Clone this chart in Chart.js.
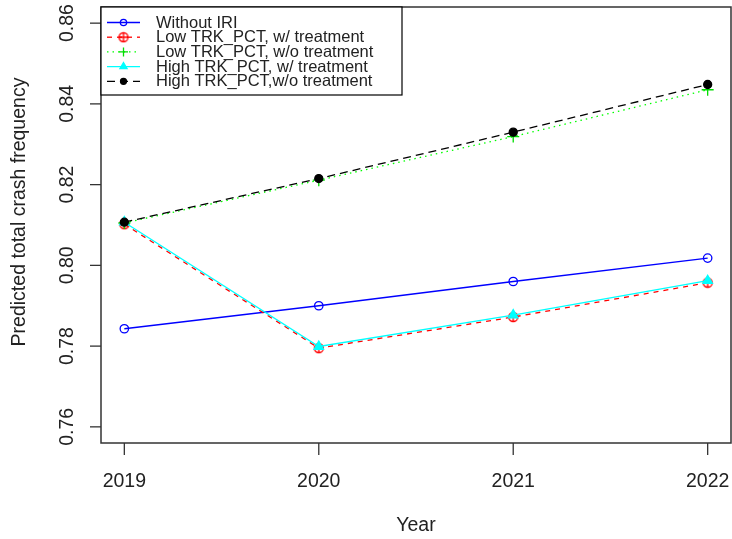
<!DOCTYPE html>
<html>
<head>
<meta charset="utf-8">
<script src="https://cdn.jsdelivr.net/npm/chart.js@4.4.1/dist/chart.umd.min.js"></script>
<style>
  html, body { margin: 0; padding: 0; background: #fff; }
  canvas { display: block; }
</style>
</head>
<body>
<canvas id="chart" width="732" height="539"></canvas>
<script>
// ---- data ----
const years = [2019, 2020, 2021, 2022];
const withoutIri = [0.7843, 0.7900, 0.7960, 0.8018];
const lowWith = [0.8102, 0.7795, 0.7872, 0.7957];
const lowWithout = [0.8105, 0.8211, 0.8319, 0.8435];
const highWith = [0.8107, 0.7799, 0.7877, 0.7962];
const highWithout = [0.8107, 0.8215, 0.8330, 0.8448];
const yTicks = [0.76, 0.78, 0.80, 0.82, 0.84, 0.86];

const FONT = "'Liberation Sans', Arial, Helvetica, sans-serif";
const AXIS = '#333';

// R's pch=10 (circle with a plus) drawn once into a small canvas
function circlePlus(color, r) {
  const c = document.createElement('canvas');
  const s = Math.ceil(r * 2 + 3);
  c.width = s; c.height = s;
  const g = c.getContext('2d');
  g.strokeStyle = color;
  g.lineWidth = 1.3;
  g.beginPath();
  g.arc(s / 2, s / 2, r, 0, Math.PI * 2);
  g.moveTo(s / 2 - r, s / 2); g.lineTo(s / 2 + r, s / 2);
  g.moveTo(s / 2, s / 2 - r); g.lineTo(s / 2, s / 2 + r);
  g.stroke();
  return c;
}

const pts = arr => arr.map((v, i) => ({ x: years[i], y: v }));

const datasets = [
  { label: 'Without IRI', data: pts(withoutIri), borderColor: '#0000ff', borderDash: [],
    pointStyle: 'circle', pointRadius: 4.2, pointBackgroundColor: 'rgba(0,0,0,0)', pointBorderColor: '#0000ff', order: 4 },
  { label: 'Low TRK_PCT, w/ treatment', data: pts(lowWith), borderColor: '#ff0000', borderDash: [5, 5],
    pointStyle: circlePlus('#ff0000', 4.5), pointRadius: 5, order: 3 },
  { label: 'Low TRK_PCT, w/o treatment', data: pts(lowWithout), borderColor: '#00ff00', borderDash: [1.5, 4],
    pointStyle: 'cross', pointRadius: 6, pointBorderColor: '#00dd00', order: 2 },
  { label: 'High TRK_PCT, w/ treatment', data: pts(highWith), borderColor: '#00ffff', borderDash: [],
    pointStyle: 'triangle', pointRadius: 5.5, pointBackgroundColor: '#00ffff', pointBorderColor: '#00ffff', order: 1 },
  { label: 'High TRK_PCT,w/o treatment', data: pts(highWithout), borderColor: '#000000', borderDash: [8, 5],
    pointStyle: 'circle', pointRadius: 4, pointBackgroundColor: '#000', pointBorderColor: '#000', order: 0 },
].map(ds => Object.assign({ borderWidth: 1.3, pointBorderWidth: 1.3, fill: false, tension: 0 }, ds));

// R-style box, ticks and labels
const rAxes = {
  id: 'rAxes',
  afterDatasetsDraw(chart) {
    const { ctx, chartArea: a, scales: { x, y } } = chart;
    ctx.save();
    ctx.strokeStyle = AXIS;
    ctx.lineWidth = 1.5;
    ctx.strokeRect(a.left, a.top, a.right - a.left, a.bottom - a.top);

    ctx.lineWidth = 1.3;
    ctx.fillStyle = '#222';
    ctx.font = `19.5px ${FONT}`;
    ctx.textAlign = 'center';
    ctx.textBaseline = 'alphabetic';
    years.forEach(yr => {
      const px = x.getPixelForValue(yr);
      ctx.beginPath();
      ctx.moveTo(px, a.bottom); ctx.lineTo(px, a.bottom + 12);
      ctx.stroke();
      ctx.fillText(String(yr), px, 487);
    });
    ctx.fillText('Year', (a.left + a.right) / 2, 531);

    yTicks.forEach(v => {
      const py = y.getPixelForValue(v);
      ctx.beginPath();
      ctx.moveTo(a.left, py); ctx.lineTo(a.left - 11, py);
      ctx.stroke();
      ctx.save();
      ctx.translate(73, py);
      ctx.rotate(-Math.PI / 2);
      ctx.fillText(v.toFixed(2), 0, 0);
      ctx.restore();
    });
    ctx.save();
    ctx.translate(25, 212);
    ctx.rotate(-Math.PI / 2);
    ctx.fillText('Predicted total crash frequency', 0, 0);
    ctx.restore();

    // legend in the top-left corner
    const lx = 101, ly = 7, lw = 301, lh = 88;
    ctx.fillStyle = '#fff';
    ctx.fillRect(lx, ly, lw, lh);
    ctx.strokeStyle = '#000';
    ctx.lineWidth = 1.2;
    ctx.strokeRect(lx, ly, lw, lh);
    ctx.font = `16.5px ${FONT}`;
    ctx.textAlign = 'left';
    datasets.forEach((ds, i) => {
      const ry = 22.5 + i * 14.7;
      ctx.strokeStyle = ds.borderColor;
      ctx.lineWidth = 1.3;
      ctx.setLineDash(ds.borderDash);
      ctx.beginPath();
      ctx.moveTo(107, ry); ctx.lineTo(140, ry);
      ctx.stroke();
      ctx.setLineDash([]);
      ctx.fillStyle = ds.pointBackgroundColor || 'rgba(0,0,0,0)';
      ctx.strokeStyle = ds.pointBorderColor || ds.borderColor;
      Chart.helpers.drawPoint(ctx, {
        pointStyle: ds.pointStyle, rotation: 0, borderWidth: 1.3,
        radius: typeof ds.pointStyle === 'string' ? ds.pointRadius * 0.75 : 4,
      }, 123.5, ry);
      ctx.fillStyle = '#222';
      ctx.fillText(ds.label, 156, ry + 5);
    });
    ctx.restore();
  }
};

new Chart(document.getElementById('chart'), {
  type: 'line',
  data: { datasets },
  options: {
    responsive: false,
    devicePixelRatio: 1,
    animation: false,
    layout: { autoPadding: false, padding: { left: 101, top: 7, right: 1, bottom: 96 } },
    plugins: { legend: { display: false }, tooltip: { enabled: false } },
    scales: {
      x: { type: 'linear', min: 2018.88, max: 2022.12, display: false },
      y: { type: 'linear', min: 0.756, max: 0.864, display: false },
    },
  },
  plugins: [rAxes],
});
</script>
</body>
</html>
